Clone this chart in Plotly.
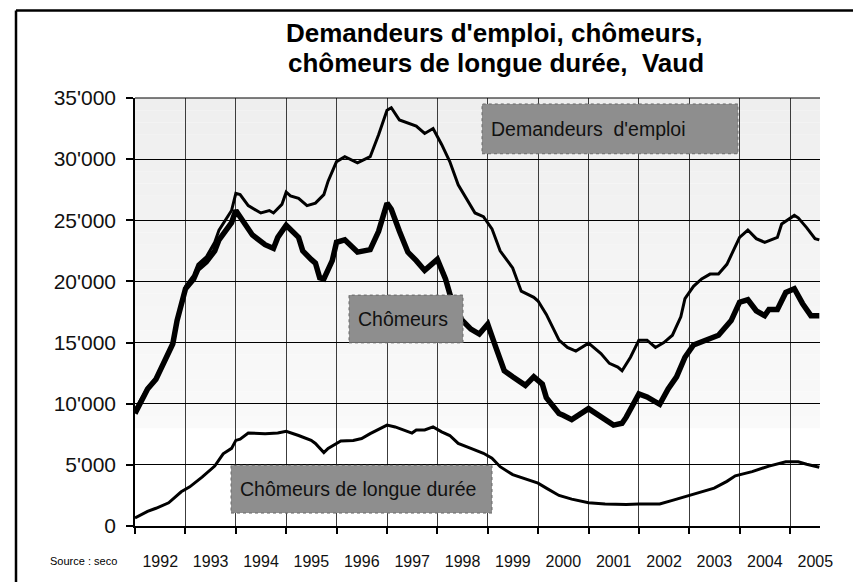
import plotly.graph_objects as go

# ---------------- data (thousands) ----------------
dem_dates = ["1992-01","1992-04","1992-06","1992-08","1992-10","1992-11","1992-12",
             "1993-01","1993-03","1993-04","1993-06","1993-08","1993-09","1993-12",
             "1994-01","1994-02","1994-04","1994-07","1994-09","1994-10","1994-12",
             "1995-01","1995-02","1995-04","1995-06","1995-08","1995-10","1995-11",
             "1996-01","1996-03","1996-06","1996-09","1996-11",
             "1997-01","1997-02","1997-04","1997-07","1997-08","1997-10","1997-12",
             "1998-02","1998-04","1998-06","1998-08","1998-10","1998-12",
             "1999-02","1999-04","1999-07","1999-09","1999-12",
             "2000-01","2000-03","2000-06","2000-08","2000-10",
             "2001-01","2001-04","2001-06","2001-08","2001-09","2001-11",
             "2002-01","2002-03","2002-05","2002-07","2002-09","2002-11","2002-12",
             "2003-02","2003-04","2003-06","2003-08","2003-10",
             "2004-01","2004-03","2004-05","2004-07","2004-10","2004-11",
             "2005-02","2005-03","2005-05","2005-07","2005-08"]
dem_vals = [9.5,11.3,12.1,13.6,15.0,16.9,18.0,
            19.6,20.5,21.4,22.0,23.2,24.2,25.8,
            27.2,27.1,26.2,25.6,25.8,25.6,26.3,
            27.3,27.0,26.8,26.2,26.4,27.1,28.2,
            29.8,30.2,29.7,30.2,32.0,
            34.0,34.2,33.2,32.8,32.7,32.1,32.5,
            31.2,29.8,27.9,26.8,25.6,25.3,
            24.3,22.5,21.1,19.2,18.7,
            18.4,17.3,15.2,14.6,14.3,
            14.95,14.1,13.3,13.0,12.7,13.8,
            15.2,15.2,14.6,15.0,15.6,17.1,18.6,
            19.6,20.2,20.6,20.6,21.4,
            23.6,24.2,23.5,23.2,23.6,24.7,
            25.4,25.2,24.4,23.5,23.4]

chom_dates = ["1992-01","1992-04","1992-06","1992-08","1992-10","1992-11","1992-12",
              "1993-01","1993-03","1993-04","1993-06","1993-08","1993-09","1993-12",
              "1994-01","1994-03","1994-05","1994-08","1994-10","1994-11",
              "1995-01","1995-04","1995-05","1995-07","1995-08","1995-09","1995-10","1995-12",
              "1996-01","1996-03","1996-06","1996-09","1996-11",
              "1997-01","1997-02","1997-04","1997-06","1997-08","1997-10",
              "1998-01","1998-03","1998-04","1998-05","1998-07","1998-09","1998-11",
              "1999-01","1999-03","1999-05","1999-07","1999-10","1999-12",
              "2000-02","2000-03","2000-06","2000-07","2000-09",
              "2001-01","2001-04","2001-07","2001-09","2001-10",
              "2002-01","2002-03","2002-06","2002-08","2002-10","2002-12",
              "2003-02","2003-05","2003-08","2003-11",
              "2004-01","2004-03","2004-05","2004-07","2004-08","2004-10","2004-12",
              "2005-02","2005-04","2005-06","2005-08"]
chom_vals = [9.2,11.2,12.0,13.5,14.9,16.8,17.9,
             19.4,20.2,21.0,21.6,22.5,23.4,24.8,
             25.8,24.9,23.8,23.0,22.7,23.6,
             24.6,23.6,22.5,21.8,21.5,20.3,20.2,21.7,
             23.2,23.4,22.4,22.6,24.1,
             26.4,25.9,24.1,22.4,21.7,20.9,
             21.8,20.2,19.0,17.9,16.8,16.1,15.7,
             16.5,14.6,12.7,12.2,11.5,12.2,
             11.6,10.5,9.2,9.05,8.7,
             9.6,8.9,8.25,8.4,8.9,
             10.8,10.55,9.95,11.2,12.2,13.8,
             14.8,15.2,15.6,16.8,
             18.3,18.5,17.6,17.2,17.7,17.7,19.1,
             19.4,18.2,17.2,17.2]

ld_dates = ["1992-01","1992-04","1992-06","1992-09","1992-12",
            "1993-02","1993-05","1993-08","1993-10","1993-12",
            "1994-01","1994-02","1994-04","1994-08","1994-11",
            "1995-01","1995-04","1995-07","1995-08","1995-10","1995-11",
            "1996-02","1996-05","1996-07","1996-09",
            "1997-01","1997-03","1997-05","1997-07","1997-08","1997-10","1997-12",
            "1998-02","1998-04","1998-06","1998-09","1998-12",
            "1999-02","1999-04","1999-07","1999-11",
            "2000-01","2000-03","2000-06","2000-09",
            "2001-01","2001-05","2001-10",
            "2002-01","2002-06","2002-09","2002-12",
            "2003-03","2003-07","2003-10","2003-12",
            "2004-04","2004-08","2004-12",
            "2005-03","2005-05","2005-08"]
ld_vals = [0.65,1.2,1.45,1.9,2.8,
           3.2,4.0,4.9,5.9,6.35,
           7.0,7.1,7.6,7.55,7.6,
           7.75,7.4,7.0,6.75,6.0,6.35,
           6.95,7.0,7.15,7.55,
           8.25,8.1,7.85,7.6,7.85,7.85,8.1,
           7.7,7.4,6.75,6.35,5.95,
           5.55,4.85,4.2,3.7,
           3.5,3.1,2.5,2.2,
           1.9,1.8,1.75,
           1.8,1.8,2.1,2.4,
           2.7,3.1,3.65,4.1,
           4.45,4.9,5.25,
           5.25,5.05,4.8]

y_tickvals = [0, 5000, 10000, 15000, 20000, 25000, 30000, 35000]
y_ticktext = ["0", "5'000", "10'000", "15'000", "20'000", "25'000", "30'000", "35'000"]

title_line1 = "Demandeurs d'emploi, chômeurs,"
title_line2 = "chômeurs de longue durée,  Vaud"
label_dem = "Demandeurs  d'emploi"
label_chom = "Chômeurs"
label_ld = "Chômeurs de longue durée"
source_txt = "Source : seco"

# ---------------- layout geometry (pixels) ----------------
W, H = 853, 582
L, R, T, B = 135, 820, 98, 528
pw, ph = R - L, B - T

def px(xp):
    return (xp - L) / pw

def py(yp):
    return (B - yp) / ph

REG = "Liberation Sans, Arial, sans-serif"

fig = go.Figure()
fig.add_trace(go.Scatter(x=dem_dates, y=[v * 1000 for v in dem_vals], mode="lines",
                         line=dict(color="black", width=3), showlegend=False))
fig.add_trace(go.Scatter(x=chom_dates, y=[v * 1000 for v in chom_vals], mode="lines",
                         line=dict(color="black", width=5.5), showlegend=False))
fig.add_trace(go.Scatter(x=ld_dates, y=[v * 1000 for v in ld_vals], mode="lines",
                         line=dict(color="black", width=3), showlegend=False))

shapes = []
# background gradient bands (8'000 to 35'000)
nb = 27
for i in range(nb):
    y0 = 8000 + i * 1000
    g = int(round(250 - (250 - 238) * (i + 0.5) / nb))
    shapes.append(dict(type="rect", xref="paper", yref="y", x0=0, x1=1, y0=y0, y1=y0 + 1000,
                       fillcolor=f"rgb({g},{g},{g})", line=dict(width=0), layer="below"))
# top border of plot
shapes.append(dict(type="line", xref="paper", yref="paper", x0=0, x1=1, y0=1, y1=1,
                   line=dict(color="black", width=1)))
# outer frame (left and top)
shapes.append(dict(type="line", xref="paper", yref="paper", x0=px(16), x1=px(16), y0=py(10), y1=py(600),
                   line=dict(color="black", width=2.5)))
shapes.append(dict(type="line", xref="paper", yref="paper", x0=px(16), x1=px(870), y0=py(10), y1=py(10),
                   line=dict(color="black", width=2.5)))
# label boxes
boxes = [(482, 104, 738, 154), (349, 296, 463, 344), (231, 467, 492, 515)]
for (x0, y0, x1, y1) in boxes:
    shapes.append(dict(type="rect", xref="paper", yref="paper", x0=px(x0), x1=px(x1), y0=py(y1), y1=py(y0),
                       fillcolor="#8e8e8e", line=dict(color="#6a6a6a", width=1, dash="dot"), layer="above"))

annotations = [
    dict(text=title_line1, x=px(494), y=py(33), xref="paper", yref="paper", showarrow=False,
         xanchor="center", yanchor="middle", font=dict(family=REG, size=26, color="black", weight="bold")),
    dict(text=title_line2, x=px(496), y=py(63), xref="paper", yref="paper", showarrow=False,
         xanchor="center", yanchor="middle", font=dict(family=REG, size=26, color="black", weight="bold")),
    dict(text=label_dem, x=px(489), y=py(129), xref="paper", yref="paper", showarrow=False,
         xanchor="left", yanchor="middle", font=dict(family=REG, size=19.5, color="#111111")),
    dict(text=label_chom, x=px(356), y=py(320), xref="paper", yref="paper", showarrow=False,
         xanchor="left", yanchor="middle", font=dict(family=REG, size=19.5, color="#111111")),
    dict(text=label_ld, x=px(238), y=py(491), xref="paper", yref="paper", showarrow=False,
         xanchor="left", yanchor="middle", font=dict(family=REG, size=19.5, color="#111111")),
    dict(text=source_txt, x=px(48), y=py(563), xref="paper", yref="paper", showarrow=False,
         xanchor="left", yanchor="middle", font=dict(family=REG, size=11, color="black")),
]

fig.update_layout(
    width=W, height=H,
    margin=dict(l=L, r=W - R, t=T, b=H - B, pad=0),
    paper_bgcolor="white", plot_bgcolor="white",
    shapes=shapes, annotations=annotations,
    showlegend=False,
)
fig.update_xaxes(
    type="date", range=["1992-01-01", "2005-08-06"],
    tick0="1992-01-01", dtick="M12", tickformat="%Y", ticklabelmode="period",
    showgrid=True, gridcolor="#3c3c3c", gridwidth=1,
    showline=True, linecolor="black", linewidth=1.5,
    ticks="outside", ticklen=6, tickcolor="black", tickwidth=1.5,
    tickfont=dict(family=REG, size=16, color="#111111"),
    ticklabelstandoff=14, zeroline=False,
)
fig.update_yaxes(
    range=[0, 35000], tickvals=y_tickvals, ticktext=y_ticktext,
    showgrid=True, gridcolor="black", gridwidth=1,
    showline=True, linecolor="black", linewidth=1.5,
    ticks="outside", ticklen=7, tickcolor="black", tickwidth=1.5,
    tickfont=dict(family=REG, size=21, color="#111111"),
    ticklabelstandoff=6, zeroline=False,
)

fig.write_html("out.html", config={"displayModeBar": False},
               post_script="document.body.style.margin='0';")
